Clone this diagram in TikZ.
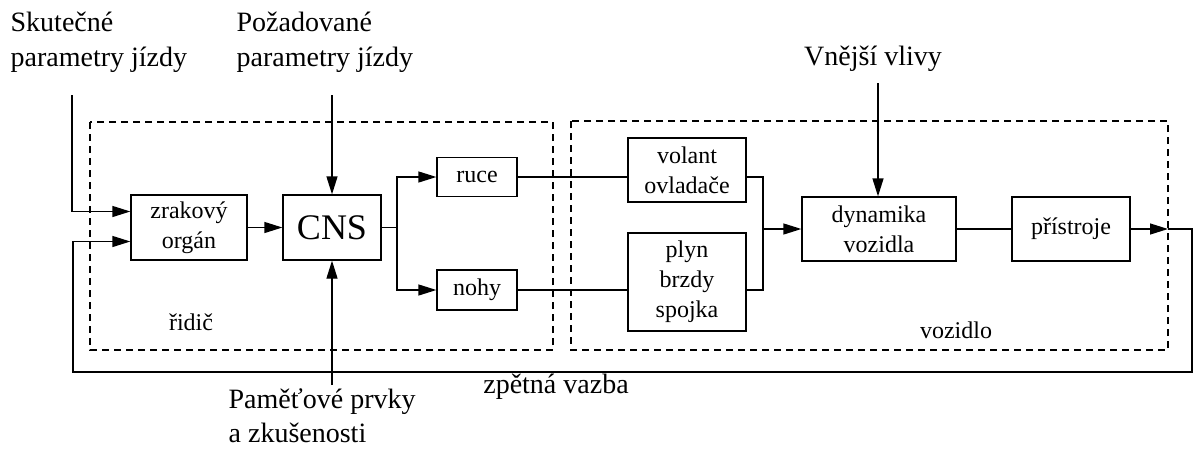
\documentclass[tikz,border=0pt]{standalone}
\usepackage{fontspec}
\setmainfont{Liberation Serif}
\usetikzlibrary{arrows.meta,calc}
\begin{document}
\begin{tikzpicture}[x=1pt,y=-1pt,
  line width=1.3pt,
  blk/.style={draw, inner sep=0pt, align=center, font=\fontsize{24}{30}\selectfont},
  lbl/.style={inner sep=0pt, align=left, font=\fontsize{28}{35}\selectfont},
  arr/.style={-{Triangle[length=18pt,width=11pt]}},
  dbox/.style={dash pattern=on 7pt off 5pt, line width=1.1pt}]
\useasboundingbox (0,0) rectangle (1194,450);
% dashed groups
\draw[dbox] (90,122) rectangle (553,350);
\draw[dbox] (571,121) rectangle (1168,350);
% blocks
\node[blk, minimum width=116pt, minimum height=65pt] (zrak) at (189,227.5) {zrakový\\orgán};
\node[blk, minimum width=98pt, minimum height=65pt, font=\fontsize{36}{40}\selectfont] (cns) at (332,227.5) {CNS};
\node[blk, minimum width=80pt, minimum height=39pt] (ruce) at (477,177) {ruce};
\node[blk, minimum width=80pt, minimum height=40pt] (nohy) at (477,290) {nohy};
\node[blk, minimum width=118pt, minimum height=64pt] (volant) at (687,170) {volant\\ovladače};
\node[blk, minimum width=118pt, minimum height=98pt] (plyn) at (687,282) {plyn\\brzdy\\spojka};
\node[blk, minimum width=154pt, minimum height=64pt] (dyn) at (879,229) {dynamika\\vozidla};
\node[blk, minimum width=118pt, minimum height=64pt] (pris) at (1071,229) {přístroje};
% labels
\node[lbl, anchor=north west] (sk) at (10,11) {Skutečné\\parametry jízdy};
\node[lbl, anchor=north west] (po) at (236,11) {Požadované\\parametry jízdy};
\node[lbl, anchor=center] (vn) at (873,59) {Vnější vlivy};
\node[lbl, anchor=north west, font=\fontsize{28}{34}\selectfont] (pa) at (228,388) {Paměťové prvky\\a zkušenosti};
\node[lbl, anchor=center] (zv) at (556,387) {zpětná vazba};
\node[blk, draw=none, anchor=center] (rid) at (191,322) {řidič};
\node[blk, draw=none, anchor=center] (voz) at (956,330) {vozidlo};
% coordinates
\coordinate (sk0) at (72,95);
\coordinate (po0) at (332,95);
\coordinate (pa0) at (332,385);
\coordinate (vn0) at (878,83);
\coordinate (br) at (397,227.5);
\coordinate (mg) at (763,229);
\coordinate (fbA) at (1168,229);
\coordinate (fbR) at (1192,372);
\coordinate (fbL) at (73,372);
% connectors
\draw[arr] (sk0) |- ($(zrak.west)+(0,-16)$);
\draw[arr] (po0) -- (po0 |- cns.north);
\draw[arr] (pa0) -- (pa0 |- cns.south);
\draw[arr] (vn0) -- (vn0 |- dyn.north);
\draw[arr] (zrak) -- (cns);
\draw (cns.east) -- (br);
\draw[arr] (br) |- (ruce.west);
\draw[arr] (br) |- (nohy.west);
\draw (ruce.east) -- (ruce.east -| volant.west);
\draw (nohy.east) -- (nohy.east -| plyn.west);
\draw (volant.east |- ruce.east) -| (mg);
\draw (plyn.east |- nohy.east) -| (mg);
\draw[arr] (mg) -- (mg -| dyn.west);
\draw (dyn) -- (pris);
\draw[arr] (pris.east) -- (fbA);
\draw[arr] (fbA) -- (fbA -| fbR) -- (fbR) -- (fbL) |- ($(zrak.west)+(0,14)$);
\end{tikzpicture}
\end{document}
